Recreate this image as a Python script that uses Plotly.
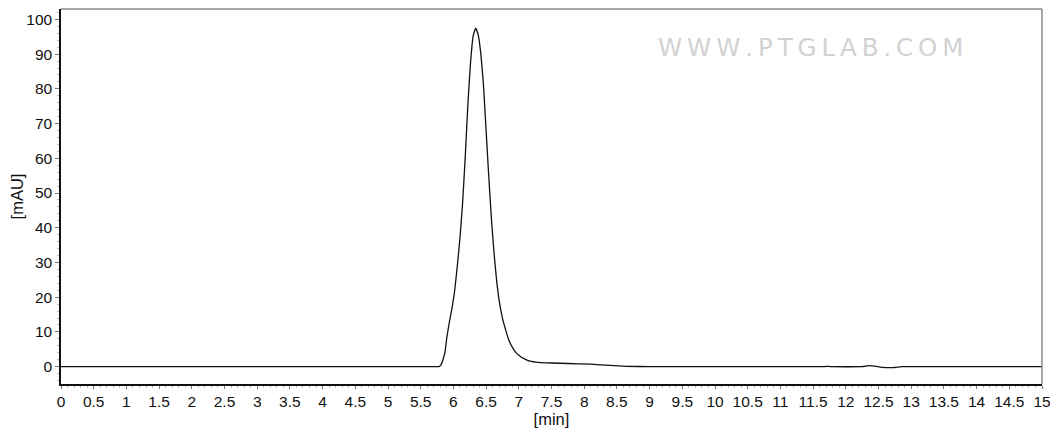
import plotly.graph_objects as go

# chromatogram: retention time (min) and signal (mAU)
time_min = [0, 2.0, 4.0, 5.0, 5.70, 5.78, 5.81, 5.84, 5.87, 5.90, 5.94, 5.98,
            6.02, 6.06, 6.10, 6.14, 6.18, 6.22, 6.26, 6.30, 6.34, 6.38, 6.42,
            6.46, 6.50, 6.54, 6.58, 6.62, 6.66, 6.70, 6.75, 6.80, 6.85, 6.90,
            6.95, 7.00, 7.08, 7.17, 7.30, 7.50, 7.75, 8.10, 8.40, 8.65, 9.00,
            10.0, 11.0, 11.68, 11.72, 11.76, 12.25, 12.35, 12.45, 12.55, 12.75,
            12.85, 13.5, 14.0, 15.0]
signal_mau = [0, 0, 0, 0, 0, 0, 0.5, 2, 4, 8.5, 13, 17,
              22, 29, 37, 47, 60, 75, 87, 95, 97.5, 95.5, 90,
              81, 68, 55, 43, 33, 25, 19, 14, 10.5, 7.5, 5.6,
              4.2, 3.3, 2.3, 1.6, 1.25, 1.05, 0.9, 0.7, 0.35, 0.1, 0,
              0, 0, 0, 0.1, 0, 0, 0.3, 0.15, -0.2, -0.25,
              0, 0, 0, 0]

x_ticks = [i * 0.5 for i in range(31)]
x_labels = ['%g' % t for t in x_ticks]
y_ticks = [0, 10, 20, 30, 40, 50, 60, 70, 80, 90, 100]

watermark = '\u2009'.join('WWW.PTGLAB.COM')

fig = go.Figure()
fig.add_trace(go.Scatter(x=time_min, y=signal_mau, mode='lines',
                         line=dict(color='#111111', width=1.3, shape='spline', smoothing=0.4),
                         showlegend=False, hoverinfo='skip'))

tick_font = dict(family='Liberation Sans, Arial', size=15.5, color='#111111')
title_font = dict(family='Liberation Sans, Arial', size=16.5, color='#111111')

fig.update_xaxes(range=[0, 15], tickvals=x_ticks, ticktext=x_labels, automargin=False,
                 showgrid=False, zeroline=False, showline=True, linecolor='#111111',
                 linewidth=1.5, ticks='outside', ticklen=3, tickcolor='#777777',
                 tickfont=tick_font,
                 minor=dict(dtick=0.1, ticks='outside', ticklen=2, tickcolor='#bbbbbb'),
                 title=dict(text='[min]', font=title_font, standoff=2))
fig.update_yaxes(range=[-5, 103], tickvals=y_ticks, automargin=False,
                 showgrid=False, zeroline=False, showline=True, linecolor='#111111',
                 linewidth=1.5, ticks='outside', ticklen=4, tickcolor='#777777',
                 tickfont=tick_font,
                 minor=dict(dtick=2, ticks='outside', ticklen=2, tickcolor='#bbbbbb'),
                 title=dict(text='[mAU]', font=title_font, standoff=6))

# grey frame on top and right
fig.add_shape(type='line', xref='paper', yref='paper', x0=0, x1=1, y0=1, y1=1,
              line=dict(color='#8a8a8a', width=1.5))
fig.add_shape(type='line', xref='paper', yref='paper', x0=1, x1=1, y0=0, y1=1,
              line=dict(color='#8a8a8a', width=1.5))

fig.add_annotation(text=watermark, xref='paper', yref='paper', x=0.7645, y=0.896,
                   xanchor='center', yanchor='middle', showarrow=False,
                   font=dict(family='DejaVu Sans', size=24.5, color='#d2d2d2'))

# page body keeps its 8px default margin, so the figure is sized to fit inside the window
fig.update_layout(width=1050, height=424, plot_bgcolor='white', paper_bgcolor='white',
                  margin=dict(l=53, r=16, t=1, b=48))

fig.write_html('out.html')
